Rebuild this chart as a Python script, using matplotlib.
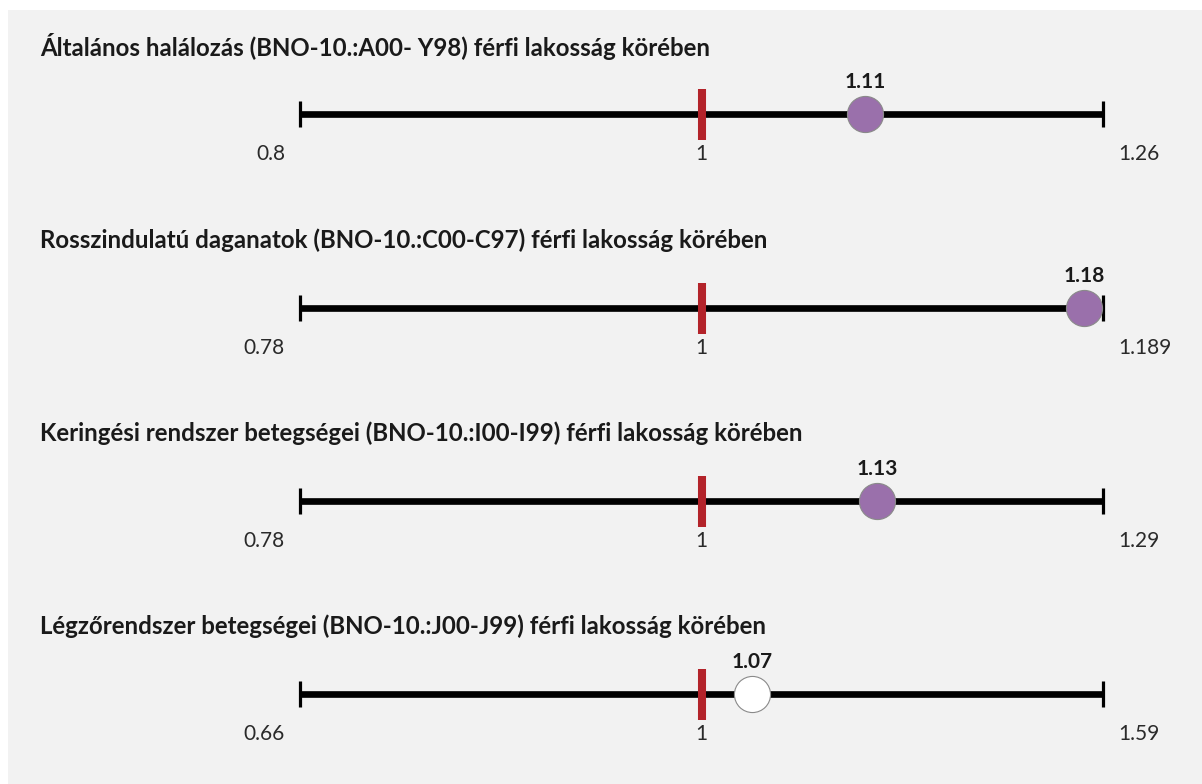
import numpy as np
import matplotlib.pyplot as plt
from matplotlib.patches import Rectangle

plt.rcParams['font.family'] = ['Lato', 'DejaVu Sans']

titles = [
    'Általános halálozás (BNO-10.:A00- Y98) férfi lakosság körében',
    'Rosszindulatú daganatok (BNO-10.:C00-C97) férfi lakosság körében',
    'Keringési rendszer betegségei (BNO-10.:I00-I99) férfi lakosság körében',
    'Légzőrendszer betegségei (BNO-10.:J00-J99) férfi lakosság körében',
]
lows = [0.8, 0.78, 0.78, 0.66]
highs = [1.26, 1.189, 1.29, 1.59]
values = [1.106, 1.18, 1.127, 1.074]
significant = [True, True, True, False]
ref = 1

W, H = 1202, 784
fig = plt.figure(figsize=(W / 100, H / 100), dpi=100, facecolor='white')
fig.patches.append(Rectangle((8 / W, 0), 1, (H - 10) / H, transform=fig.transFigure,
                             facecolor='#f2f2f2', edgecolor='none', zorder=-10))

line_y = [114, 308, 501, 694]  # pixel rows of the bars


def make_scale(lo, hi):
    # left half: lo..1, right half: 1..hi
    def fwd(x):
        x = np.asarray(x, float)
        return np.where(x < ref, (x - ref) / (ref - lo), (x - ref) / (hi - ref))

    def inv(u):
        u = np.asarray(u, float)
        return np.where(u < 0, ref + u * (ref - lo), ref + u * (hi - ref))
    return fwd, inv


px = 0.72  # points per pixel

for i in range(4):
    lo, hi, v = lows[i], highs[i], values[i]
    y = line_y[i]
    ax = fig.add_axes([300 / W, 1 - (y + 30) / H, 803 / W, 60 / H])
    ax.set_xscale('function', functions=make_scale(lo, hi))
    ax.set_xlim(lo, hi)
    ax.set_ylim(-1, 1)
    ax.axis('off')
    ax.patch.set_alpha(0)

    ax.plot([lo, hi], [0, 0], color='black', lw=4.8, solid_capstyle='butt', clip_on=False)
    for e in (lo, hi):
        ax.plot([e, e], [-0.43, 0.43], color='black', lw=2.3, solid_capstyle='butt', clip_on=False)
    ax.plot([ref, ref], [-0.85, 0.85], color='#b3232a', lw=5.8, solid_capstyle='butt',
            clip_on=False, zorder=3)
    ax.plot(v, 0, 'o', ms=26, mfc='#9a70ab' if significant[i] else 'white',
            mec='#8a8a8a', mew=0.8, clip_on=False, zorder=4)

    ax.annotate(f'{v:.2f}', (v, 0), xytext=(0, 32 * px), textcoords='offset points',
                ha='center', va='center', fontsize=15, fontweight='bold', color='#1a1a1a')
    ax.annotate(f'{lo:g}', (lo, 0), xytext=(-15 * px, -40 * px), textcoords='offset points',
                ha='right', va='center', fontsize=15, color='#2a2a2a')
    ax.annotate(f'{ref:g}', (ref, 0), xytext=(0, -40 * px), textcoords='offset points',
                ha='center', va='center', fontsize=15, color='#2a2a2a')
    ax.annotate(f'{hi:g}', (hi, 0), xytext=(15 * px, -40 * px), textcoords='offset points',
                ha='left', va='center', fontsize=15, color='#2a2a2a')

    fig.text(40 / W, 1 - (y - 68) / H, titles[i], ha='left', va='center',
             fontsize=17.3, fontweight='bold', color='#1a1a1a')

fig.savefig('out.png', dpi=100, facecolor=fig.get_facecolor())
